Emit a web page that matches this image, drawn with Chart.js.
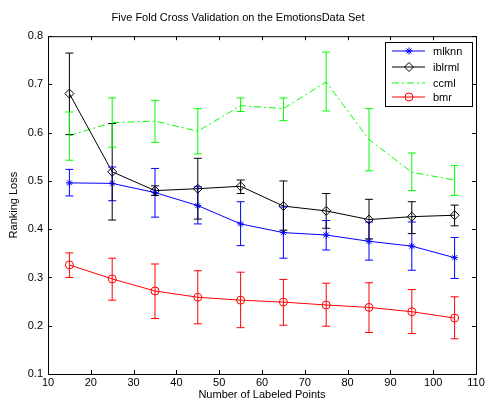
<!DOCTYPE html>
<html>
<head>
<meta charset="utf-8">
<script src="https://cdn.jsdelivr.net/npm/chart.js@4/dist/chart.umd.min.js"></script>
<style>
  html, body { margin: 0; padding: 0; background: #fff; }
  #wrap { width: 489px; height: 406px; }
</style>
</head>
<body>
<div id="wrap"><canvas id="chart" width="489" height="406"></canvas></div>
<script>
// データ
const labeledPoints = [15, 25, 35, 45, 55, 65, 75, 85, 95, 105];

const mlknn   = [0.496, 0.495, 0.476, 0.449, 0.411, 0.393, 0.388, 0.375, 0.365, 0.341];
const mlknnLo = [0.469, 0.459, 0.425, 0.411, 0.366, 0.340, 0.357, 0.336, 0.315, 0.298];
const mlknnHi = [0.524, 0.529, 0.526, 0.488, 0.457, 0.446, 0.418, 0.415, 0.415, 0.383];

const iblrml   = [0.681, 0.519, 0.480, 0.484, 0.489, 0.448, 0.438, 0.420, 0.426, 0.429];
const iblrmlLo = [0.596, 0.419, 0.470, 0.421, 0.474, 0.398, 0.402, 0.380, 0.391, 0.407];
const iblrmlHi = [0.765, 0.619, 0.490, 0.547, 0.502, 0.500, 0.474, 0.462, 0.457, 0.450];

const ccml   = [0.594, 0.621, 0.624, 0.603, 0.656, 0.650, 0.705, 0.586, 0.518, 0.502];
const ccmlLo = [0.543, 0.570, 0.580, 0.556, 0.644, 0.625, 0.645, 0.521, 0.480, 0.470];
const ccmlHi = [0.643, 0.672, 0.667, 0.650, 0.672, 0.672, 0.767, 0.650, 0.558, 0.532];

const bmr   = [0.326, 0.297, 0.272, 0.259, 0.253, 0.249, 0.243, 0.238, 0.229, 0.216];
const bmrLo = [0.300, 0.253, 0.215, 0.204, 0.196, 0.201, 0.199, 0.186, 0.184, 0.173];
const bmrHi = [0.351, 0.340, 0.328, 0.314, 0.311, 0.296, 0.288, 0.289, 0.275, 0.260];

const FONT = 'Liberation Sans, Arial, sans-serif';

function pts(arr) {
    return arr.map((v, i) => ({ x: labeledPoints[i], y: v }));
}

// エラーバー・枠・目盛り・凡例を描くプラグイン
const matlabLook = {
    id: 'matlabLook',
    afterDatasetsDraw(chart) {
        const ctx = chart.ctx;
        const xs = chart.scales.x, ys = chart.scales.y;
        const a = chart.chartArea;
        ctx.save();
        ctx.beginPath();
        ctx.rect(a.left, a.top, a.right - a.left, a.bottom - a.top);
        ctx.clip();
        chart.data.datasets.forEach(ds => {
            ctx.strokeStyle = ds.borderColor;
            ctx.lineWidth = 1;
            ctx.setLineDash([]);
            for (let i = 0; i < ds.errLo.length; i++) {
                const px = xs.getPixelForValue(labeledPoints[i]);
                const lo = ys.getPixelForValue(ds.errLo[i]);
                const hi = ys.getPixelForValue(ds.errHi[i]);
                ctx.beginPath();
                ctx.moveTo(px, lo); ctx.lineTo(px, hi);
                ctx.moveTo(px - 4, lo); ctx.lineTo(px + 4, lo);
                ctx.moveTo(px - 4, hi); ctx.lineTo(px + 4, hi);
                ctx.stroke();
            }
        });
        ctx.restore();
    },
    afterDraw(chart) {
        const ctx = chart.ctx;
        const xs = chart.scales.x, ys = chart.scales.y;
        const a = chart.chartArea;
        ctx.save();
        ctx.strokeStyle = '#000';
        ctx.lineWidth = 1;
        ctx.strokeRect(a.left + 0.5, a.top + 0.5, a.right - a.left, a.bottom - a.top);
        ctx.beginPath();
        xs.ticks.forEach(t => {
            const px = Math.round(xs.getPixelForValue(t.value)) + 0.5;
            ctx.moveTo(px, a.bottom); ctx.lineTo(px, a.bottom - 4);
            ctx.moveTo(px, a.top); ctx.lineTo(px, a.top + 4);
        });
        ys.ticks.forEach(t => {
            const py = Math.round(ys.getPixelForValue(t.value)) + 0.5;
            ctx.moveTo(a.left, py); ctx.lineTo(a.left + 4, py);
            ctx.moveTo(a.right, py); ctx.lineTo(a.right - 4, py);
        });
        ctx.stroke();

        // 凡例
        const lx = 385.5, ly = 42.5, lw = 87, lh = 64;
        ctx.fillStyle = '#fff';
        ctx.fillRect(lx, ly, lw, lh);
        ctx.strokeRect(lx, ly, lw, lh);
        const rows = [51, 67, 83, 97];
        ctx.font = '11px ' + FONT;
        ctx.textBaseline = 'middle';
        chart.data.datasets.forEach((ds, i) => {
            const y = rows[i];
            ctx.strokeStyle = ds.borderColor;
            ctx.lineWidth = 1;
            ctx.setLineDash(ds.borderDash || []);
            ctx.beginPath();
            ctx.moveTo(392, y); ctx.lineTo(425, y);
            ctx.stroke();
            ctx.setLineDash([]);
            const mx = 409, r = ds.pointRadius;
            ctx.beginPath();
            if (ds.pointStyle === 'star') {
                ctx.moveTo(mx - r, y); ctx.lineTo(mx + r, y);
                ctx.moveTo(mx, y - r); ctx.lineTo(mx, y + r);
                const d = r * 0.707;
                ctx.moveTo(mx - d, y - d); ctx.lineTo(mx + d, y + d);
                ctx.moveTo(mx - d, y + d); ctx.lineTo(mx + d, y - d);
            } else if (ds.pointStyle === 'rectRot') {
                ctx.moveTo(mx, y - r); ctx.lineTo(mx + r, y);
                ctx.lineTo(mx, y + r); ctx.lineTo(mx - r, y); ctx.closePath();
            } else if (ds.pointStyle === 'circle' && r > 0) {
                ctx.arc(mx, y, r, 0, Math.PI * 2);
            }
            if (r > 0) ctx.stroke();
            ctx.fillStyle = '#000';
            ctx.fillText(ds.label, 433, y + 0.5);
        });
        ctx.restore();
    }
};

function series(label, vals, lo, hi, color, style, radius, dash) {
    return {
        label: label,
        data: pts(vals),
        errLo: lo,
        errHi: hi,
        borderColor: color,
        backgroundColor: color,
        borderWidth: 1,
        borderDash: dash || [],
        pointStyle: style,
        pointRadius: radius,
        pointBorderColor: color,
        pointBackgroundColor: 'rgba(0,0,0,0)',
        pointBorderWidth: 1,
        tension: 0,
        fill: false
    };
}

new Chart(document.getElementById('chart'), {
    type: 'line',
    data: {
        datasets: [
            series('mlknn', mlknn, mlknnLo, mlknnHi, '#0000ff', 'star', 3.5),
            series('iblrml', iblrml, iblrmlLo, iblrmlHi, '#000000', 'rectRot', 4.5),
            series('ccml', ccml, ccmlLo, ccmlHi, '#00ff00', 'circle', 0, [7, 3, 2, 3]),
            series('bmr', bmr, bmrLo, bmrHi, '#ff0000', 'circle', 4)
        ]
    },
    options: {
        responsive: false,
        animation: false,
        layout: { padding: { top: 1, right: 13, left: 0, bottom: 0 } },
        plugins: {
            legend: { display: false },
            tooltip: { enabled: false },
            title: {
                display: true,
                text: 'Five Fold Cross Validation on the EmotionsData Set',
                color: '#000',
                font: { family: FONT, size: 11, weight: 'normal' },
                padding: { top: 10, bottom: 12 }
            }
        },
        scales: {
            x: {
                type: 'linear',
                min: 10,
                max: 110,
                ticks: { stepSize: 10, color: '#000', font: { family: FONT, size: 11 }, padding: 2, maxRotation: 0 },
                grid: { display: false, drawTicks: false },
                border: { display: false },
                title: {
                    display: true,
                    text: 'Number of Labeled Points',
                    color: '#000',
                    font: { family: FONT, size: 11 },
                    padding: { top: 0, bottom: 4 }
                },
                afterFit(s) { s.height = 32; }
            },
            y: {
                min: 0.1,
                max: 0.8,
                ticks: { stepSize: 0.1, color: '#000', font: { family: FONT, size: 11 }, padding: 5 },
                grid: { display: false, drawTicks: false },
                border: { display: false },
                title: {
                    display: true,
                    text: 'Ranking Loss',
                    color: '#000',
                    font: { family: FONT, size: 11 },
                    padding: { top: 7, bottom: 0 }
                },
                afterFit(s) { s.width = 48; }
            }
        }
    },
    plugins: [matlabLook]
});
</script>
</body>
</html>
